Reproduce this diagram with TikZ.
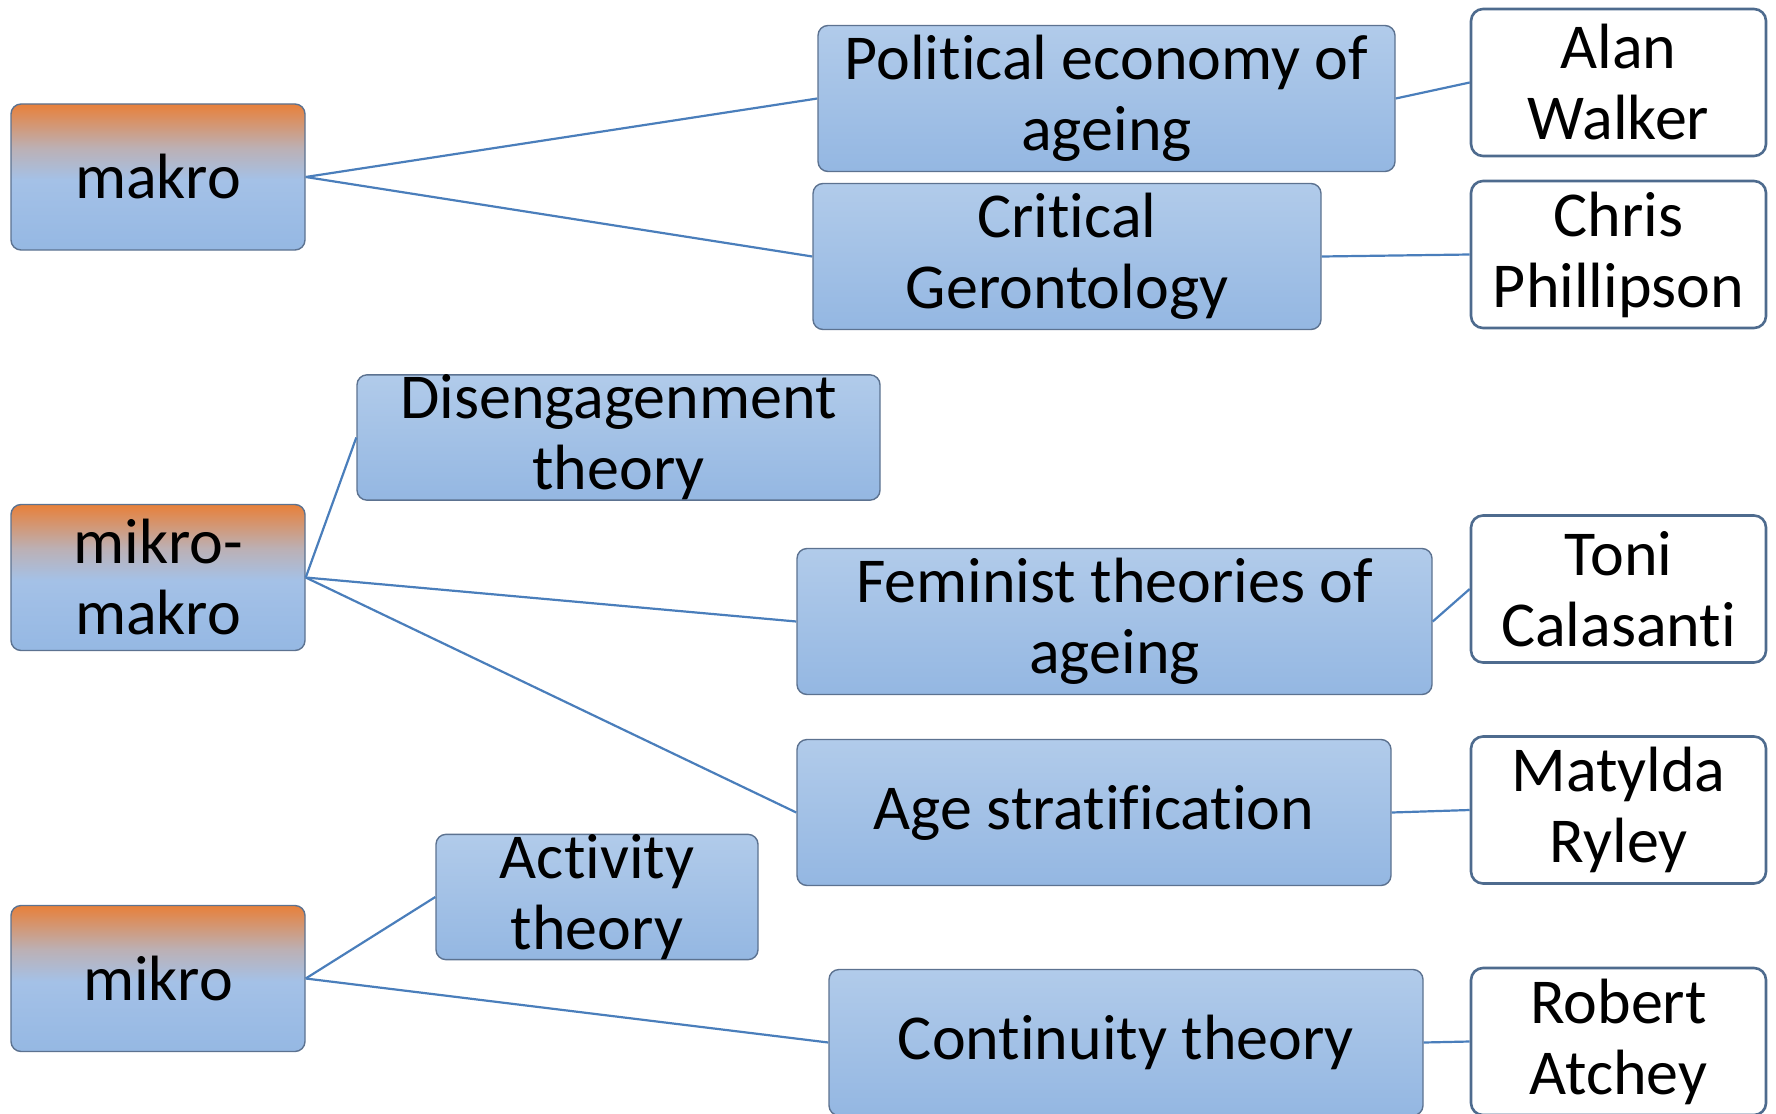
\documentclass[tikz,border=0pt]{standalone}
\usepackage{fontspec}
\setmainfont[Ligatures=NoCommon]{Carlito}
\usetikzlibrary{positioning}

\definecolor{lvorange}{HTML}{E8803A}
\definecolor{lvgray}{HTML}{BCB0B4}
\definecolor{lvbluea}{HTML}{A4C1E7}
\definecolor{lvblueb}{HTML}{95B8E3}
\definecolor{thtop}{HTML}{B1CBEA}
\definecolor{thbot}{HTML}{94B7E2}
\definecolor{boxline}{HTML}{5C7290}
\definecolor{persline}{HTML}{4E6B8E}
\definecolor{linkline}{HTML}{4A7EBB}

\pgfdeclareverticalshading{levelshade}{100bp}{color(0bp)=(lvblueb); color(25bp)=(lvblueb);
  color(49bp)=(lvbluea); color(60bp)=(lvgray); color(75bp)=(lvorange); color(100bp)=(lvorange)}

\begin{document}
\begin{tikzpicture}[x=0.5pt, y=-0.5pt,
    every node/.style={font=\fontsize{32}{35.5}\selectfont, align=center, inner sep=0pt},
    level/.style={draw=boxline, line width=0.7pt, rounded corners=5pt, shading=levelshade,
      minimum width=147pt, minimum height=73pt},
    theory/.style={draw=boxline, line width=0.7pt, rounded corners=5pt,
      top color=thtop, bottom color=thbot, minimum height=73pt},
    person/.style={draw=persline, line width=1.3pt, rounded corners=6pt, fill=white,
      minimum width=147.5pt, minimum height=73.5pt},
    link/.style={draw=linkline, line width=1.1pt}]

  \clip (0,0) rectangle (1776,1113);

  % levels
  \node[level] (makro) at (158,177) {makro};
  \node[level] (mikromakro) at (158,577.5) {mikro-\\makro};
  \node[level] (mikro) at (158,978.5) {mikro};

  % theories
  \node[theory, minimum width=288.5pt] (polecon) at (1106.5,98.5) {Political economy of\\ageing};
  \node[theory, minimum width=254pt] (critger) at (1067,256.5) {Critical\\Gerontology};
  \node[theory, minimum width=261.5pt, minimum height=60.5pt] (diseng) at (618.5,437.5) {Disengagenment\\theory};
  \node[theory, minimum width=317.5pt] (feminist) at (1114.5,621.5) {Feminist theories of\\ageing};
  \node[theory, minimum width=297pt] (agestrat) at (1094,812.5) {Age stratification};
  \node[theory, minimum width=161pt, minimum height=58pt] (activity) at (597,897) {Activity\\theory};
  \node[theory, minimum width=297pt] (continuity) at (1126,1042.5) {Continuity theory};

  % authors
  \node[person] (walker) at (1618.5,82.5) {Alan\\Walker};
  \node[person] (phillipson) at (1618.5,254.5) {Chris\\Phillipson};
  \node[person] (calasanti) at (1618.5,589) {Toni\\Calasanti};
  \node[person] (ryley) at (1618.5,810) {Matylda\\Ryley};
  \node[person] (atchey) at (1618.5,1041.5) {Robert\\Atchey};

  \foreach \a/\b in {makro/polecon, makro/critger, mikromakro/diseng, mikromakro/feminist,
      mikromakro/agestrat, mikro/activity, mikro/continuity, polecon/walker,
      critger/phillipson, feminist/calasanti, agestrat/ryley, continuity/atchey}
    \draw[link] (\a.east) -- (\b.west);
\end{tikzpicture}
\end{document}
